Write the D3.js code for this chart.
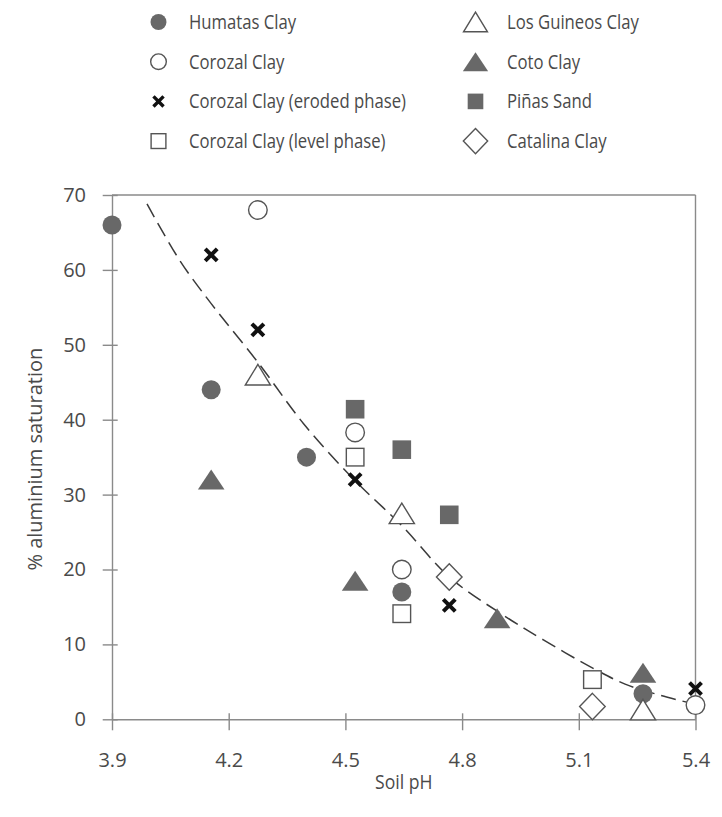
<!DOCTYPE html>
<html>
<head>
<meta charset="utf-8">
<script src="https://cdn.jsdelivr.net/npm/d3@7"></script>
<style>
  html, body { margin: 0; padding: 0; background: #fff; }
  svg { display: block; }
  text { font-family: "Open Sans", "Noto Sans", sans-serif; fill: #4a4a4a; }
</style>
</head>
<body>
<svg id="chart" width="722" height="817"></svg>
<script>
// ---------- data ----------
const xTicks = [3.9, 4.2, 4.5, 4.8, 5.1, 5.4];
const yTicks = [0, 10, 20, 30, 40, 50, 60, 70];

const humatasPH = [3.90, 4.155, 4.40, 4.645, 5.265];
const humatasAl = [66, 44, 35, 17, 3.4];

const corozalPH = [4.275, 4.525, 4.645, 5.40];
const corozalAl = [68, 38.3, 20, 1.9];

const erodedPH = [4.155, 4.275, 4.525, 4.767, 5.40];
const erodedAl = [62, 52, 32, 15.2, 4.1];

const levelPH = [4.525, 4.645, 5.135];
const levelAl = [35, 14.1, 5.3];

const guineosPH = [4.275, 4.645, 5.265];
const guineosAl = [46, 27.5, 1.3];

const cotoPH = [4.155, 4.525, 4.89, 5.265];
const cotoAl = [32, 18.5, 13.5, 6.2];

const pinasPH = [4.525, 4.645, 4.767];
const pinasAl = [41.4, 36, 27.3];

const catalinaPH = [4.767, 5.135];
const catalinaAl = [19, 1.7];

// fitted trend curve
const trendPH = [3.99, 4.075, 4.155, 4.276, 4.392, 4.522, 4.646, 4.767, 4.906, 5.009, 5.137, 5.219, 5.31, 5.40];
const trendAl = [68.8, 61.2, 55.5, 47.6, 39.5, 32.0, 25.8, 19.0, 13.9, 10.6, 6.8, 4.7, 3.2, 2.0];

const legendLabels = [
  "Humatas Clay", "Corozal Clay", "Corozal Clay (eroded phase)", "Corozal Clay (level phase)",
  "Los Guineos Clay", "Coto Clay", "Piñas Sand", "Catalina Clay"
];
const legendKeys = ["fcircle", "ocircle", "cross", "osquare", "otri", "ftri", "fsquare", "diamond"];

const xTitle = "Soil pH";
const yTitle = "% aluminium saturation";

// ---------- drawing ----------
const svg = d3.select("#chart");
const x = d3.scaleLinear().domain([3.9, 5.4]).range([112, 695.5]);
const y = d3.scaleLinear().domain([0, 70]).range([719.3, 195]);

const AXIS = "#8a8a8a";
const FILL = "#686868";
const OPEN = "#555";
const FONT = '"Open Sans", "Noto Sans", sans-serif';

// frame (top and right)
svg.append("line").attr("x1", x(3.9)).attr("x2", x(5.4)).attr("y1", y(70)).attr("y2", y(70))
  .attr("stroke", AXIS).attr("stroke-width", 1.4);
svg.append("line").attr("x1", x(5.4)).attr("x2", x(5.4)).attr("y1", y(0)).attr("y2", y(70))
  .attr("stroke", AXIS).attr("stroke-width", 1.4);

// y axis
const gy = svg.append("g").attr("transform", `translate(${x(3.9)},0)`)
  .call(d3.axisLeft(y).tickValues(yTicks).tickFormat(d3.format("d")).tickSizeOuter(0));
gy.select(".domain").attr("stroke", AXIS).attr("stroke-width", 1.4);
gy.selectAll(".tick line").attr("x1", 5.7).attr("x2", -9.3).attr("stroke", AXIS).attr("stroke-width", 1.4);
gy.selectAll(".tick text").attr("x", -26).style("font-size", "20px")
  .style("font-family", FONT).attr("fill", "#4a4a4a");

// x axis
const gx = svg.append("g").attr("transform", `translate(0,${y(0)})`)
  .call(d3.axisBottom(x).tickValues(xTicks).tickFormat(d3.format(".1f")).tickSizeOuter(0));
gx.select(".domain").attr("stroke", AXIS).attr("stroke-width", 1.4);
gx.selectAll(".tick line").attr("y1", -6).attr("y2", 11).attr("stroke", AXIS).attr("stroke-width", 1.4);
gx.selectAll(".tick text").attr("y", 48).attr("dy", 0).style("font-size", "20px")
  .style("font-family", FONT).attr("fill", "#4a4a4a");

// axis titles
svg.append("text").attr("transform", `translate(${(x(3.9) + x(5.4)) / 2},789) scale(0.88,1)`)
  .attr("text-anchor", "middle").style("font-size", "20px").text(xTitle);
svg.append("text").attr("transform", `translate(42,${(y(0) + y(70)) / 2 + 2}) rotate(-90)`)
  .attr("text-anchor", "middle").style("font-size", "20px").text(yTitle);

// trend line
const trend = trendPH.map((p, i) => [p, trendAl[i]]);
svg.append("path").datum(trend)
  .attr("d", d3.line().x(d => x(d[0])).y(d => y(d[1])).curve(d3.curveCatmullRom))
  .attr("fill", "none").attr("stroke", "#3a3a3a").attr("stroke-width", 1.5)
  .attr("stroke-dasharray", "15,7");

// marker drawing
function drawMarker(g, key, s) {
  switch (key) {
    case "fcircle":
      g.append("circle").attr("r", 9.5 * s).attr("fill", FILL);
      break;
    case "ocircle":
      g.append("circle").attr("r", 9.3 * s).attr("fill", "#fff").attr("stroke", OPEN).attr("stroke-width", 1.4);
      break;
    case "cross": {
      const a = 6 * s;
      g.append("path").attr("d", `M${-a},${-a}L${a},${a}M${-a},${a}L${a},${-a}`)
        .attr("stroke", "#111").attr("stroke-width", 4 * Math.max(s, 0.85)).attr("fill", "none");
      break;
    }
    case "osquare": {
      const h = 8.8 * s;
      g.append("rect").attr("x", -h).attr("y", -h).attr("width", 2 * h).attr("height", 2 * h)
        .attr("fill", "#fff").attr("stroke", OPEN).attr("stroke-width", 1.4);
      break;
    }
    case "fsquare": {
      const h = 9.3 * s;
      g.append("rect").attr("x", -h).attr("y", -h).attr("width", 2 * h).attr("height", 2 * h).attr("fill", FILL);
      break;
    }
    case "otri": {
      const w = 12.6 * s, hh = 10.3 * s;
      g.append("path").attr("d", `M0,${-hh}L${w},${hh}L${-w},${hh}Z`)
        .attr("fill", "#fff").attr("stroke", OPEN).attr("stroke-width", 1.4);
      break;
    }
    case "ftri": {
      const w = 13.3 * s, hh = 10 * s;
      g.append("path").attr("d", `M0,${-hh}L${w},${hh}L${-w},${hh}Z`).attr("fill", FILL);
      break;
    }
    case "diamond": {
      const w = 12.8 * s, hh = 13.2 * s;
      g.append("path").attr("d", `M0,${-hh}L${w},0L0,${hh}L${-w},0Z`)
        .attr("fill", "#fff").attr("stroke", OPEN).attr("stroke-width", 1.4);
      break;
    }
  }
}

const series = [
  { key: "fcircle", ph: humatasPH, al: humatasAl },
  { key: "ocircle", ph: corozalPH, al: corozalAl },
  { key: "cross", ph: erodedPH, al: erodedAl },
  { key: "osquare", ph: levelPH, al: levelAl },
  { key: "otri", ph: guineosPH, al: guineosAl },
  { key: "ftri", ph: cotoPH, al: cotoAl },
  { key: "fsquare", ph: pinasPH, al: pinasAl },
  { key: "diamond", ph: catalinaPH, al: catalinaAl }
];

const drawOrder = ["fsquare", "osquare", "ocircle", "fcircle", "otri", "diamond", "ftri", "cross"];
drawOrder.forEach(k => {
  const s = series.find(q => q.key === k);
  s.ph.forEach((p, i) => {
    const g = svg.append("g").attr("transform", `translate(${x(p)},${y(s.al[i])})`);
    drawMarker(g, s.key, 1);
  });
});

// legend
const legendCols = [158.5, 475.5];
const legendTextX = [189, 507];
legendLabels.forEach((lab, i) => {
  const col = Math.floor(i / 4), row = i % 4;
  const cy = 22 + row * 39.7;
  const g = svg.append("g").attr("transform", `translate(${legendCols[col]},${cy})`);
  const k = legendKeys[i];
  const sc = (k === "otri" || k === "ftri" || k === "diamond") ? 0.95 : 0.84;
  drawMarker(g, k, sc);
  svg.append("text").attr("transform", `translate(${legendTextX[col]},${cy + 7}) scale(0.835,1)`)
    .style("font-size", "20px").text(lab);
});
</script>
</body>
</html>
